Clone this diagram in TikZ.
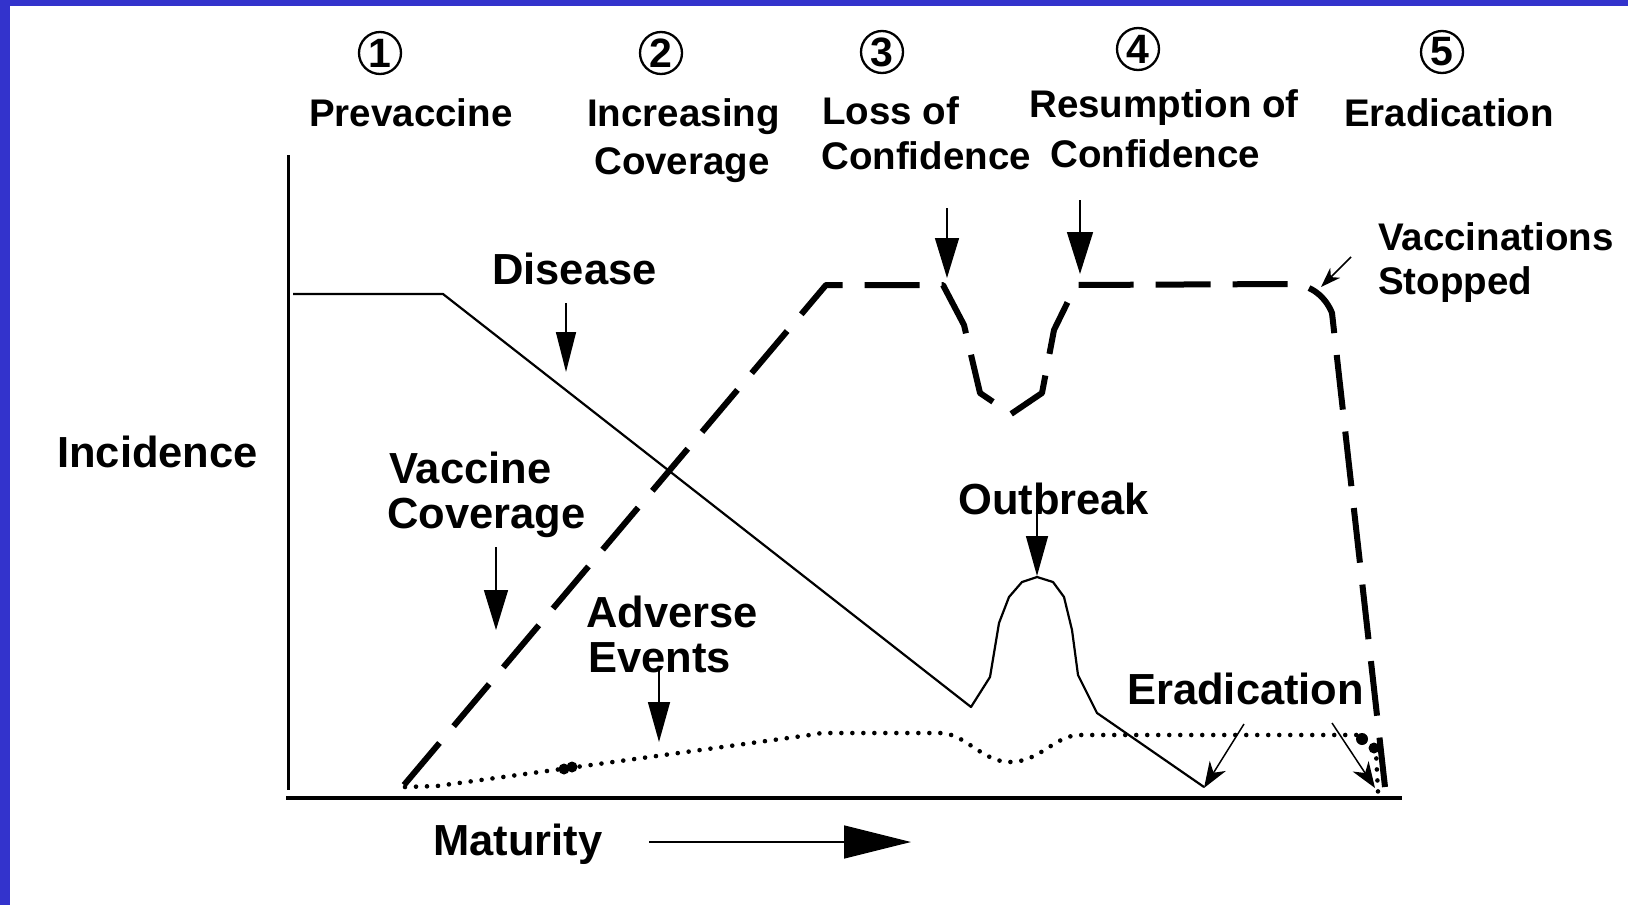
\documentclass[tikz,border=0pt]{standalone}
\usepackage{fontspec}
\setmainfont{Liberation Sans}
\usetikzlibrary{arrows.meta}
\definecolor{frameblue}{RGB}{51,51,204}
\begin{document}
\begin{tikzpicture}[x=1pt,y=-1pt,
  lbl/.style={inner sep=0pt, font=\fontsize{43.5}{48}\selectfont\bfseries, anchor=base west},
  toplbl/.style={inner sep=0pt, font=\fontsize{38.5}{42}\selectfont\bfseries, anchor=base west},
  num/.style={circle, draw, line width=2.3pt, minimum size=42pt, inner sep=0pt, font=\fontsize{41}{41}\selectfont\bfseries},
  pointer/.style={line width=1.5pt, -{Triangle[length=40pt,width=22pt]}},
  slim pointer/.style={line width=1.5pt, -{Stealth[length=26pt,width=19pt,inset=8pt]}},
  disease/.style={line width=2.2pt, line join=round},
  coverage/.style={line width=6pt, line join=round, dash pattern=on 55pt off 22pt},
  adverse/.style={line width=4.6pt, line cap=round, dash pattern=on 0pt off 11pt},
  axis/.style={line width=3pt},
]
\useasboundingbox (0,0) rectangle (1628,905);
\fill[white] (0,0) rectangle (1628,905);
\fill[frameblue] (0,0) rectangle (1628,6);
\fill[frameblue] (0,0) rectangle (10,905);

% axes
\coordinate (yTop) at (288,155);
\coordinate (yBot) at (288,790);
\coordinate (xL) at (286,798);
\coordinate (xR) at (1402,798);
\draw[axis] (yTop) -- (yBot);
\draw[axis, line width=4.5pt] (xL) -- (xR);

% circled numbers
\node[num] (n1) at (380,53) {1};
\node[num] (n2) at (661,53) {2};
\node[num] (n3) at (882,52) {3};
\node[num] (n4) at (1138,49) {4};
\node[num] (n5) at (1442,52) {5};

% top labels
\node[toplbl] (prev) at (309,126) {Prevaccine};
\node[toplbl] (incr) at (587,126) {Increasing};
\node[toplbl] (cov2) at (594,174) {Coverage};
\node[toplbl] (loss) at (822,124) {Loss of};
\node[toplbl] (conf3) at (821,169) {Confidence};
\node[toplbl] (resu) at (1029,117) {Resumption of};
\node[toplbl] (conf4) at (1050,167) {Confidence};
\node[toplbl] (erad5) at (1344,126) {Eradication};
\node[toplbl] (vacc) at (1378,250) {Vaccinations};
\node[toplbl] (stop) at (1378,294) {Stopped};

% main labels
\node[lbl] (dis) at (492,284) {Disease};
\node[lbl] (inc) at (57,467) {Incidence};
\node[lbl] (vac) at (389,483) {Vaccine};
\node[lbl] (vcov) at (387,528) {Coverage};
\node[lbl] (adv) at (586,627) {Adverse};
\node[lbl] (evt) at (588,672) {Events};
\node[lbl] (outb) at (958,514) {Outbreak};
\node[lbl] (erad) at (1127,704) {Eradication};
\node[lbl] (mat) at (433,855) {Maturity};

% disease curve
\draw[disease] (293,294) -- (443,294) -- (971,707) -- (990,677) -- (999,623) -- (1009,597) -- (1022,582) -- (1037,577) -- (1053,582) -- (1064,597) -- (1072,630) -- (1078,675) -- (1097,713) -- (1204,787);

% vaccine coverage curve
\draw[coverage] (404,785) -- (826,285) -- (943,285) -- (964,325) -- (980,393) -- (1011,414) -- (1042,393) -- (1054,330) -- (1076,285) -- (1290,284) .. controls (1312,284) and (1326,298) .. (1332,313) -- (1385,787);

% adverse events curve
\draw[adverse] (405,787) -- (437,786) -- (569,768) -- (810,735) .. controls (820,733) .. (835,733) -- (940,733) .. controls (965,733) and (982,762) .. (1010,762) .. controls (1040,762) and (1055,735) .. (1080,735) -- (1358,735) -- (1376,752) -- (1378,792);
\fill (564,769) circle (5.5);
\fill (572,767) circle (5.5);
\fill (1362,739) circle (6);
\fill (1374,748) circle (5.5);

% pointers
\coordinate (dA) at (566,303); \coordinate (dB) at (566,372);
\draw[pointer, -{Triangle[length=40pt,width=20pt]}] (dA) -- (dB);
\coordinate (vA) at (496,547); \coordinate (vB) at (496,630);
\draw[pointer, -{Triangle[length=40pt,width=24pt]}] (vA) -- (vB);
\coordinate (aA) at (659,668); \coordinate (aB) at (659,742);
\draw[pointer] (aA) -- (aB);
\coordinate (oA) at (1037,513); \coordinate (oB) at (1037,576);
\draw[pointer] (oA) -- (oB);
\coordinate (lA) at (947,208); \coordinate (lB) at (947,278);
\draw[pointer, -{Triangle[length=40pt,width=24pt]}] (lA) -- (lB);
\coordinate (rA) at (1080,200); \coordinate (rB) at (1080,274);
\draw[pointer, -{Triangle[length=42pt,width=26pt]}] (rA) -- (rB);
\coordinate (sA) at (1351,257); \coordinate (sB) at (1321,287);
\draw[slim pointer, -{Stealth[length=20pt,width=14pt,inset=6pt]}] (sA) -- (sB);
\coordinate (e1A) at (1244,724); \coordinate (e1B) at (1204,788);
\draw[slim pointer] (e1A) -- (e1B);
\coordinate (e2A) at (1332,723); \coordinate (e2B) at (1375,788);
\draw[slim pointer] (e2A) -- (e2B);
\coordinate (mA) at (649,842); \coordinate (mB) at (911,842);
\draw[line width=1.5pt, -{Triangle[length=67pt,width=33pt]}] (mA) -- (mB);
\end{tikzpicture}
\end{document}
